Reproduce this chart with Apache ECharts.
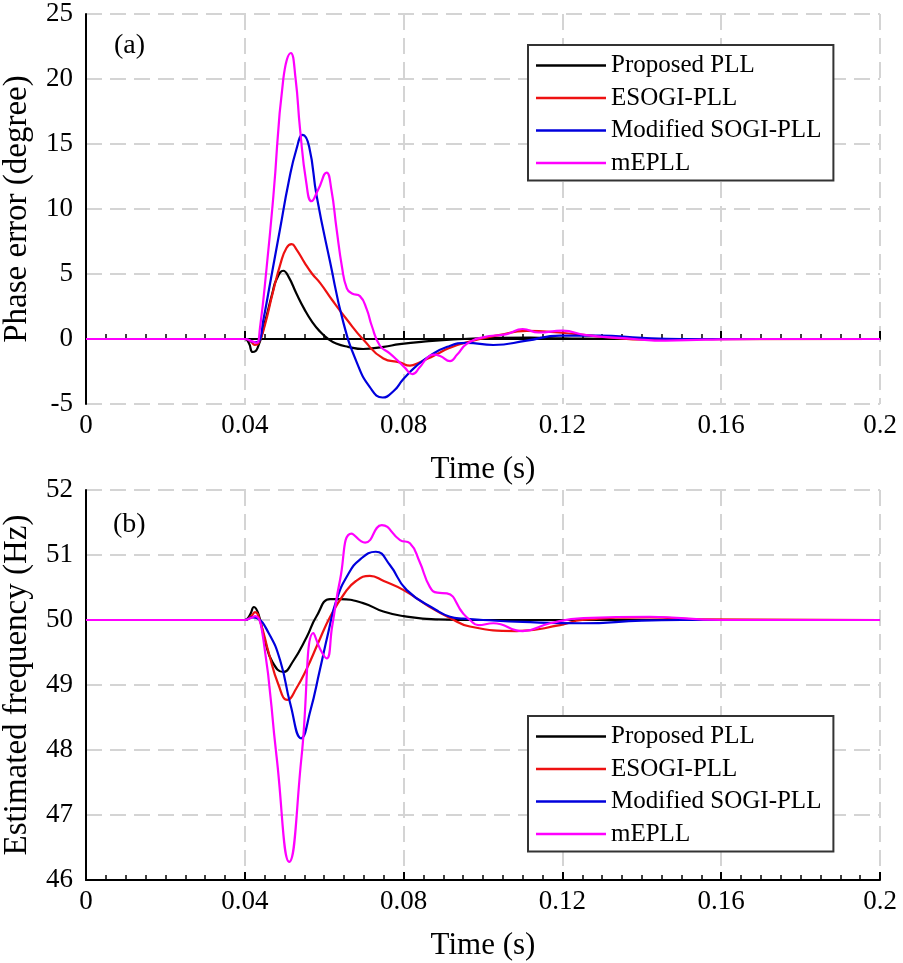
<!DOCTYPE html>
<html>
<head>
<meta charset="utf-8">
<script src="https://cdn.jsdelivr.net/npm/echarts@6/dist/echarts.min.js"></script>
<style>
html,body{margin:0;padding:0;background:#fff;}
#chart{width:903px;height:963px;}
</style>
</head>
<body>
<div id="chart"></div>
<script>
// ---------- Data ----------
const seriesNames = ['Proposed PLL', 'ESOGI-PLL', 'Modified SOGI-PLL', 'mEPLL'];
const seriesColors = ['#000000', '#ee1111', '#0000dd', '#ff00ff'];

const xTicks = [0, 0.04, 0.08, 0.12, 0.16, 0.2];
const phaseTicks = [-5, 0, 5, 10, 15, 20, 25];
const freqTicks = [46, 47, 48, 49, 50, 51, 52];

// (a) phase error (degree): [time s, value]
const phaseProposed = [[0,0],[0.040,0],[0.041,-0.3],[0.042,-1.0],[0.0432,-0.7],[0.045,1.2],[0.047,3.6],[0.048,4.6],[0.0497,5.25],[0.051,4.8],[0.053,3.5],[0.055,2.3],[0.057,1.3],[0.059,0.55],[0.061,0.0],[0.063,-0.35],[0.066,-0.6],[0.0698,-0.77],[0.075,-0.6],[0.079,-0.4],[0.085,-0.2],[0.0917,-0.05],[0.104,0.08],[0.112,0.1],[0.12,0.05],[0.135,0.0],[0.2,0]];
const phaseESOGI = [[0,0],[0.040,0],[0.0415,-0.2],[0.0425,-0.45],[0.0435,-0.3],[0.045,1.0],[0.047,3.5],[0.049,5.8],[0.0505,7.0],[0.0518,7.3],[0.053,6.9],[0.055,5.9],[0.057,5.0],[0.059,4.3],[0.062,3.0],[0.0657,1.5],[0.070,-0.1],[0.0749,-1.5],[0.079,-1.8],[0.0816,-2.05],[0.084,-1.8],[0.0875,-1.3],[0.0915,-0.7],[0.0959,-0.25],[0.104,0.3],[0.111,0.62],[0.119,0.5],[0.129,0.2],[0.142,-0.05],[0.155,-0.02],[0.2,0]];
const phaseModSOGI = [[0,0],[0.040,0],[0.0425,-0.25],[0.0435,-0.2],[0.0447,1.5],[0.0465,4.5],[0.0489,8.5],[0.051,12.0],[0.053,14.6],[0.0546,15.7],[0.0562,14.8],[0.0581,11.0],[0.0615,5.9],[0.0648,1.3],[0.0682,-1.8],[0.0715,-3.7],[0.0747,-4.5],[0.0775,-4.0],[0.0799,-3.1],[0.0833,-2.05],[0.0866,-1.3],[0.091,-0.6],[0.0959,-0.3],[0.1026,-0.46],[0.111,-0.13],[0.1194,0.26],[0.1295,0.26],[0.14,0.08],[0.15,0.0],[0.2,0]];
const phaseMEPLL = [[0,0],[0.040,0],[0.042,-0.2],[0.043,-0.3],[0.0438,0.8],[0.0455,5.5],[0.0472,11.0],[0.0497,20.0],[0.0516,22.0],[0.0528,20.0],[0.0539,16.2],[0.0555,12.0],[0.0568,10.6],[0.0585,11.5],[0.0606,12.8],[0.0618,11.5],[0.0631,8.5],[0.0645,5.5],[0.0657,3.9],[0.067,3.5],[0.069,3.3],[0.0707,2.3],[0.072,1.0],[0.074,-0.5],[0.0765,-1.1],[0.0783,-1.6],[0.0803,-2.2],[0.0822,-2.7],[0.084,-2.2],[0.0858,-1.5],[0.0875,-1.2],[0.0892,-1.3],[0.0917,-1.7],[0.0935,-1.2],[0.0959,-0.38],[0.1,0.13],[0.106,0.38],[0.110,0.77],[0.114,0.5],[0.120,0.64],[0.126,0.3],[0.138,0.0],[0.146,-0.13],[0.156,-0.05],[0.17,0],[0.2,0]];

// (b) estimated frequency (Hz): [time s, value]
const freqProposed = [[0,50],[0.040,50],[0.0413,50.08],[0.0423,50.2],[0.0435,50.08],[0.045,49.7],[0.047,49.35],[0.0497,49.2],[0.052,49.35],[0.0556,49.74],[0.058,50.05],[0.0615,50.32],[0.064,50.32],[0.0698,50.26],[0.0749,50.13],[0.080,50.06],[0.088,50.01],[0.1,50.0],[0.2,50]];
const freqESOGI = [[0,50],[0.040,50],[0.0415,50.05],[0.0426,50.12],[0.044,49.95],[0.046,49.5],[0.0485,49.0],[0.0507,48.77],[0.053,48.95],[0.0556,49.25],[0.0585,49.65],[0.0615,50.05],[0.065,50.4],[0.068,50.6],[0.0715,50.68],[0.075,50.6],[0.080,50.46],[0.0866,50.2],[0.0917,50.03],[0.0967,49.9],[0.1085,49.83],[0.1194,49.92],[0.125,50.0],[0.142,50.04],[0.155,50.01],[0.2,50]];
const freqModSOGI = [[0,50],[0.040,50],[0.042,50.04],[0.043,50.03],[0.046,49.8],[0.0489,49.38],[0.0515,48.7],[0.0542,48.18],[0.0565,48.6],[0.0589,49.23],[0.061,49.8],[0.0631,50.31],[0.066,50.7],[0.069,50.93],[0.073,51.05],[0.0765,50.85],[0.0808,50.46],[0.0883,50.15],[0.0917,50.05],[0.095,50.02],[0.1,50.0],[0.11,49.97],[0.125,49.95],[0.14,49.99],[0.15,50.0],[0.2,50]];
const freqMEPLL = [[0,50],[0.040,50],[0.0415,50.03],[0.0426,50.06],[0.0447,49.69],[0.048,47.9],[0.0512,46.28],[0.0543,47.9],[0.0573,49.8],[0.059,49.55],[0.0606,49.41],[0.062,49.9],[0.064,50.62],[0.0669,51.33],[0.0703,51.19],[0.0745,51.46],[0.0791,51.23],[0.0816,51.18],[0.084,50.9],[0.0866,50.51],[0.0885,50.42],[0.0909,50.41],[0.095,50.1],[0.0967,50.0],[0.0988,49.92],[0.1026,49.95],[0.110,49.83],[0.1169,49.95],[0.1253,50.03],[0.142,50.05],[0.16,50.0],[0.2,50]];

const phaseData = [phaseProposed, phaseESOGI, phaseModSOGI, phaseMEPLL];
const freqData = [freqProposed, freqESOGI, freqModSOGI, freqMEPLL];

// ---------- Chart ----------
const FONT = 'Liberation Serif';
const chart = echarts.init(document.getElementById('chart'), null, {renderer: 'canvas'});

function xAxisCfg(gridIndex) {
  return {
    type: 'value', gridIndex: gridIndex, min: 0, max: 0.2, interval: 0.04,
    name: 'Time (s)', nameLocation: 'middle', nameGap: 50,
    nameTextStyle: {fontFamily: FONT, fontSize: 31, color: '#000'},
    axisLine: {show: true, lineStyle: {color: '#000', width: 2}},
    axisTick: {show: true, inside: true, length: 8, lineStyle: {color: '#000', width: 2}},
    minorTick: {show: true, splitNumber: 8, length: 5, lineStyle: {color: '#000', width: 1.5}},
    axisLabel: {fontFamily: FONT, fontSize: 27, color: '#000', margin: 8,
      formatter: function (v) { return String(+v.toFixed(3)); }},
    splitLine: {show: true, lineStyle: {color: '#d4d4d4', width: 2, type: [16, 8]}}
  };
}
function yAxisCfg(gridIndex, name, min, max, interval) {
  return {
    type: 'value', gridIndex: gridIndex, min: min, max: max, interval: interval,
    name: name, nameLocation: 'middle', nameGap: 52,
    nameTextStyle: {fontFamily: FONT, fontSize: 33, color: '#000'},
    axisLine: {show: true, lineStyle: {color: '#000', width: 2}},
    axisTick: {show: false},
    axisLabel: {fontFamily: FONT, fontSize: 27, color: '#000', margin: 13},
    splitLine: {show: true, lineStyle: {color: '#d4d4d4', width: 2, type: [16, 8]}}
  };
}

const series = [];
[phaseData, freqData].forEach(function (group, gi) {
  group.forEach(function (d, i) {
    series.push({
      name: seriesNames[i], type: 'line', xAxisIndex: gi, yAxisIndex: gi,
      data: d, symbol: 'none', showSymbol: false, smooth: 0.5,
      lineStyle: {color: seriesColors[i], width: 2.2},
      itemStyle: {color: seriesColors[i]},
      z: 2 + i, animation: false
    });
  });
});

function legendCfg(top) {
  return {
    data: seriesNames, orient: 'vertical', left: 528, top: top,
    icon: 'rect', itemWidth: 70, itemHeight: 2.5, itemGap: 7.5,
    padding: [8, 12, 5, 8],
    borderColor: '#333', borderWidth: 2, backgroundColor: '#fff',
    textStyle: {fontFamily: FONT, fontSize: 25, color: '#000', lineHeight: 24},
    selectedMode: false
  };
}

chart.setOption({
  animation: false,
  backgroundColor: '#fff',
  grid: [
    {left: 86, top: 14, width: 794, height: 390, outerBoundsMode: 'none', containLabel: false},
    {left: 86, top: 490, width: 794, height: 390, outerBoundsMode: 'none', containLabel: false}
  ],
  xAxis: [xAxisCfg(0), xAxisCfg(1)],
  yAxis: [
    yAxisCfg(0, 'Phase error (degree)', -5, 25, 5),
    yAxisCfg(1, 'Estimated frequency (Hz)', 46, 52, 1)
  ],
  legend: [legendCfg(45), legendCfg(716)],
  series: series,
  graphic: [
    {type: 'text', left: 114, top: 32, style: {text: '(a)', font: '28px "Liberation Serif"', fill: '#000'}},
    {type: 'text', left: 113, top: 511, style: {text: '(b)', font: '28px "Liberation Serif"', fill: '#000'}}
  ]
});
</script>
</body>
</html>
